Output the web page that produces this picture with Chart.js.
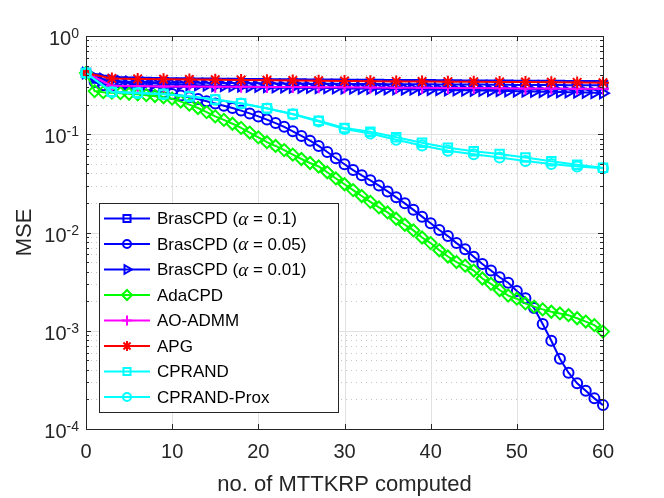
<!DOCTYPE html>
<html>
<head>
<meta charset="utf-8">
<script src="https://cdn.jsdelivr.net/npm/chart.js@4.4.1/dist/chart.umd.min.js"></script>
<style>
  html, body { margin: 0; padding: 0; background: #fff; }
  #wrap { width: 664px; height: 498px; }
</style>
</head>
<body>
<div id="wrap"><canvas id="c" width="664" height="498"></canvas></div>
<script>
// ---- data ----
const iters = [0,1,2,3,4,5,6,7,8,9,10,11,12,13,14,15,16,17,18,19,20,21,22,23,24,25,26,27,28,29,30,
  31,32,33,34,35,36,37,38,39,40,41,42,43,44,45,46,47,48,49,50,51,52,53,54,55,56,57,58,59,60];
const iters3 = [0,3,6,9,12,15,18,21,24,27,30,33,36,39,42,45,48,51,54,57,60];

const brasA01 = [0.42,0.37,0.356,0.349,0.345,0.343,0.341,0.340,0.339,0.338,
  0.337,0.336,0.335,0.335,0.334,0.333,0.333,0.332,0.331,0.331,
  0.330,0.330,0.329,0.329,0.328,0.328,0.327,0.327,0.326,0.326,
  0.325,0.325,0.324,0.324,0.324,0.323,0.323,0.323,0.322,0.322,
  0.322,0.321,0.321,0.321,0.320,0.320,0.320,0.319,0.319,0.319,
  0.318,0.318,0.318,0.317,0.317,0.317,0.316,0.316,0.316,0.315,0.315];
const brasA005 = [0.42,0.34,0.316,0.31,0.30,0.295,0.288,0.282,0.274,0.266,
  0.257,0.248,0.238,0.228,0.217,0.206,0.195,0.185,0.174,0.163,
  0.152,0.141,0.130,0.119,0.107,0.096,0.086,0.076,0.066,0.057,
  0.0495,0.0432,0.0382,0.034,0.030,0.0262,0.0228,0.0198,0.017,0.0145,
  0.0124,0.0106,0.0092,0.0078,0.00675,0.00567,0.00478,0.0041,0.0035,0.00308,
  0.00254,0.00214,0.0017,0.00117,0.00079,0.00052,0.000374,0.000292,0.000245,0.000205,0.000175];
const brasA001 = [0.42,0.38,0.365,0.355,0.347,0.341,0.336,0.332,0.328,0.325,
  0.322,0.320,0.318,0.316,0.314,0.312,0.311,0.309,0.308,0.306,
  0.305,0.304,0.302,0.301,0.300,0.299,0.298,0.297,0.296,0.295,
  0.294,0.293,0.292,0.291,0.290,0.289,0.288,0.287,0.286,0.285,
  0.284,0.283,0.282,0.281,0.280,0.279,0.278,0.277,0.276,0.275,
  0.274,0.273,0.272,0.271,0.270,0.269,0.268,0.267,0.266,0.264,0.262];
const adaCPD = [0.42,0.275,0.268,0.265,0.262,0.258,0.255,0.250,0.245,0.238,
  0.230,0.215,0.200,0.185,0.168,0.152,0.140,0.128,0.116,0.104,
  0.093,0.083,0.076,0.069,0.062,0.056,0.051,0.047,0.041,0.0355,
  0.031,0.027,0.0235,0.0205,0.018,0.016,0.0138,0.012,0.0105,0.0089,
  0.0078,0.0066,0.0057,0.0050,0.0046,0.0041,0.0034,0.0030,0.0026,0.00228,
  0.00212,0.0019,0.00176,0.00165,0.00156,0.0015,0.00144,0.00134,0.00124,0.00114,0.00098];
const aoADMM = [0.42,0.312,0.309,0.307,0.306,0.305,0.304,0.303,0.302,0.301,0.300,
  0.299,0.298,0.297,0.296,0.295,0.294,0.293,0.292,0.291,0.290];
const apg = [0.42,0.370,0.366,0.363,0.361,0.359,0.357,0.355,0.353,0.351,0.349,
  0.347,0.345,0.344,0.343,0.342,0.341,0.340,0.338,0.337,0.335];
const cprand = [0.42,0.27,0.264,0.257,0.244,0.226,0.207,0.184,0.161,0.137,0.116,
  0.106,0.093,0.082,0.073,0.067,0.063,0.058,0.053,0.049,0.0455];
const cprandProx = [0.42,0.268,0.262,0.255,0.242,0.225,0.206,0.183,0.160,0.135,0.113,
  0.102,0.088,0.077,0.068,0.0625,0.058,0.0535,0.0497,0.047,0.045];

const legendLabels = ['BrasCPD (α = 0.1)','BrasCPD (α = 0.05)','BrasCPD (α = 0.01)',
  'AdaCPD','AO-ADMM','APG','CPRAND','CPRAND-Prox'];
const xTicks = [0,10,20,30,40,50,60];
const yTicks = [1e-4,1e-3,1e-2,1e-1,1];
const yTickExp = ['-4','-3','-2','-1','0'];

// ---- styles ----
const AXIS = '#262626';
const FONT = '"Liberation Sans", Arial, Helvetica, sans-serif';
const series = [
  {x: iters,  y: brasA01,    color: '#0000ff', style: 'rect',     rot: 0,  r: 6},
  {x: iters,  y: brasA005,   color: '#0000ff', style: 'circle',   rot: 0,  r: 5},
  {x: iters,  y: brasA001,   color: '#0000ff', style: 'triangle', rot: 90, r: 6},
  {x: iters,  y: adaCPD,     color: '#00ff00', style: 'rectRot',  rot: 0,  r: 6},
  {x: iters3, y: aoADMM,     color: '#ff00ff', style: 'cross',    rot: 0,  r: 6},
  {x: iters3, y: apg,        color: '#ff0000', style: 'star',     rot: 0,  r: 6},
  {x: iters3, y: cprand,     color: '#00ffff', style: 'rect',     rot: 0,  r: 6},
  {x: iters3, y: cprandProx, color: '#00ffff', style: 'circle',   rot: 0,  r: 5}
];

const datasets = series.map((s, i) => ({
  label: legendLabels[i],
  data: s.x.map((x, k) => ({x: x, y: s.y[k]})),
  borderColor: s.color,
  borderWidth: 2,
  pointStyle: s.style,
  pointRotation: s.rot,
  pointRadius: s.r,
  pointBorderWidth: 2,
  pointBorderColor: s.color,
  pointBackgroundColor: 'rgba(0,0,0,0)',
  fill: false,
  tension: 0,
  clip: false,
  order: series.length - i   // later series drawn on top, like MATLAB
}));

// grid under the data
const gridPlugin = {
  id: 'matGrid',
  beforeDatasetsDraw(chart) {
    const ctx = chart.ctx, a = chart.chartArea, xs = chart.scales.x, ys = chart.scales.y;
    ctx.save();
    ctx.lineWidth = 1;
    // minor dotted horizontal lines
    ctx.strokeStyle = '#c4c4c4';
    ctx.setLineDash([1, 4]);
    for (let e = -4; e < 0; e++) {
      for (let m = 2; m <= 9; m++) {
        const y = Math.round(ys.getPixelForValue(m * Math.pow(10, e))) + 0.5;
        ctx.beginPath(); ctx.moveTo(a.left, y); ctx.lineTo(a.right, y); ctx.stroke();
      }
    }
    // major solid lines
    ctx.setLineDash([]);
    ctx.strokeStyle = '#e1e1e1';
    yTicks.forEach(v => {
      const y = Math.round(ys.getPixelForValue(v)) + 0.5;
      ctx.beginPath(); ctx.moveTo(a.left, y); ctx.lineTo(a.right, y); ctx.stroke();
    });
    xTicks.forEach(v => {
      const x = Math.round(xs.getPixelForValue(v)) + 0.5;
      ctx.beginPath(); ctx.moveTo(x, a.top); ctx.lineTo(x, a.bottom); ctx.stroke();
    });
    ctx.restore();
  }
};

// axes box, inward ticks, y labels with superscripts, legend
const framePlugin = {
  id: 'matFrame',
  afterDraw(chart) {
    const ctx = chart.ctx, a = chart.chartArea, xs = chart.scales.x, ys = chart.scales.y;
    ctx.save();
    ctx.strokeStyle = AXIS;
    ctx.lineWidth = 1;
    ctx.strokeRect(Math.round(a.left) + 0.5, Math.round(a.top) + 0.5,
      Math.round(a.right - a.left), Math.round(a.bottom - a.top));
    ctx.beginPath();
    xTicks.forEach(v => {
      const x = Math.round(xs.getPixelForValue(v)) + 0.5;
      ctx.moveTo(x, a.bottom); ctx.lineTo(x, a.bottom - 5);
      ctx.moveTo(x, a.top); ctx.lineTo(x, a.top + 5);
    });
    for (let e = -4; e <= 0; e++) {
      for (let m = 1; m <= 9; m++) {
        if (e === 0 && m > 1) break;
        const y = Math.round(ys.getPixelForValue(m * Math.pow(10, e))) + 0.5;
        const len = m === 1 ? 5 : 3;
        ctx.moveTo(a.left, y); ctx.lineTo(a.left + len, y);
        ctx.moveTo(a.right, y); ctx.lineTo(a.right - len, y);
      }
    }
    ctx.stroke();

    // y tick labels 10^n
    ctx.fillStyle = AXIS;
    ctx.textBaseline = 'alphabetic';
    yTicks.forEach((v, i) => {
      const y = ys.getPixelForValue(v);
      ctx.font = '14px ' + FONT;
      const ew = ctx.measureText(yTickExp[i]).width;
      const right = a.left - 7;
      ctx.textAlign = 'left';
      ctx.fillText(yTickExp[i], right - ew, y + 2);
      ctx.font = '20px ' + FONT;
      ctx.textAlign = 'right';
      ctx.fillText('10', right - ew, y + 9);
    });

    // legend
    const bx = Math.round(a.left) + 13, by = Math.round(a.top) + 167, bw = 239, bh = 209;
    ctx.fillStyle = '#fff';
    ctx.fillRect(bx, by, bw, bh);
    ctx.strokeStyle = AXIS;
    ctx.lineWidth = 1;
    ctx.strokeRect(bx + 0.5, by + 0.5, bw, bh);
    chart.data.datasets.forEach((ds, i) => {
      const y = by + 15.5 + i * 25.5;
      ctx.strokeStyle = ds.borderColor;
      ctx.lineWidth = 2;
      ctx.beginPath(); ctx.moveTo(bx + 5, y); ctx.lineTo(bx + 51, y); ctx.stroke();
      ctx.fillStyle = 'rgba(0,0,0,0)';
      if (Chart.helpers && Chart.helpers.drawPoint) {
        Chart.helpers.drawPoint(ctx, {pointStyle: ds.pointStyle, rotation: ds.pointRotation,
          radius: ds.pointRadius - 1, borderWidth: 2}, bx + 28, y);
      }
      const parts = ds.label.split('α');
      let tx = bx + 58;
      ctx.fillStyle = '#000';
      ctx.textAlign = 'left';
      ctx.textBaseline = 'middle';
      ctx.font = '17px ' + FONT;
      ctx.fillText(parts[0], tx, y + 1);
      tx += ctx.measureText(parts[0]).width;
      if (parts.length > 1) {
        ctx.font = 'italic 19px "Liberation Serif", "DejaVu Serif", serif';
        ctx.fillText('α', tx, y + 1);
        tx += ctx.measureText('α').width;
        ctx.font = '17px ' + FONT;
        ctx.fillText(parts[1], tx, y + 1);
      }
    });
    ctx.restore();
  }
};

new Chart(document.getElementById('c'), {
  type: 'line',
  data: { datasets },
  options: {
    responsive: false,
    animation: false,
    devicePixelRatio: 1,
    layout: { padding: { left: 0, right: 61, top: 36, bottom: 0 } },
    plugins: { legend: { display: false }, tooltip: { enabled: false } },
    scales: {
      x: {
        type: 'linear', min: 0, max: 60,
        grid: { display: false, drawTicks: false },
        border: { display: false },
        ticks: { stepSize: 10, color: AXIS, font: { size: 20, family: FONT }, padding: 11, maxRotation: 0 },
        title: { display: true, text: 'no. of MTTKRP computed', color: AXIS,
          font: { size: 22, family: FONT }, padding: { top: 0, bottom: 0 } },
        afterFit: s => { s.height = 69; }
      },
      y: {
        type: 'logarithmic', min: 1e-4, max: 1,
        grid: { display: false, drawTicks: false },
        border: { display: false },
        ticks: { display: false },
        title: { display: true, text: 'MSE', color: AXIS,
          font: { size: 22, family: FONT }, padding: { top: 12, bottom: 0 } },
        afterFit: s => { s.width = 86; }
      }
    }
  },
  plugins: [gridPlugin, framePlugin]
});
</script>
</body>
</html>
